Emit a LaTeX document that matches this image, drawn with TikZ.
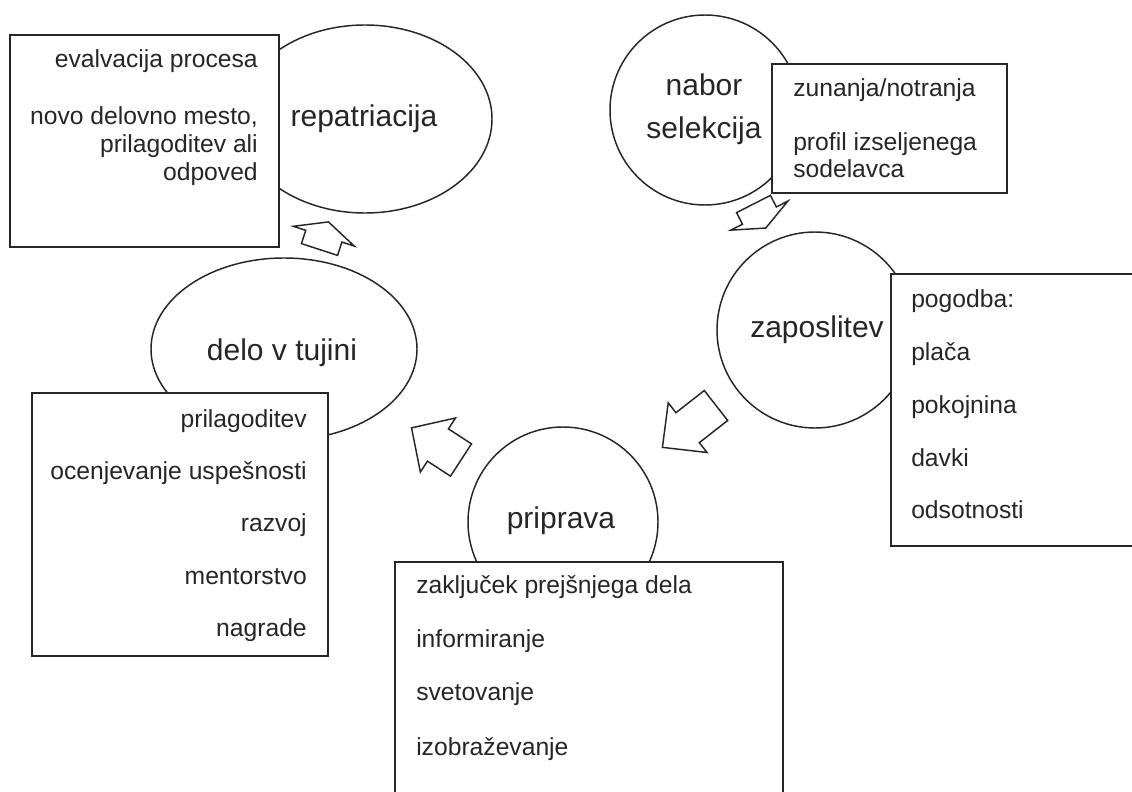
\documentclass[tikz,border=0pt]{standalone}
\usepackage{fontspec}
\setmainfont{Liberation Sans}
\usetikzlibrary{shapes.geometric}
\definecolor{ink}{HTML}{262626}
\begin{document}
\begin{tikzpicture}[x=0.75pt,y=-0.75pt,
  shapeline/.style={draw=ink, line width=1.1pt, fill=white},
  bubble/.style={shapeline, ellipse, inner sep=0pt},
  panel/.style={draw=ink, line width=1.4pt, fill=white, rectangle, inner sep=0pt},
  stagetext/.style={font=\fontsize{22.5}{26}\selectfont, text=ink, inner sep=0pt},
  itemtext/.style={font=\fontsize{18.5}{21}\selectfont, text=ink, inner sep=0pt},
  pics/blockarrow/.style args={#1/#2/#3/#4}{code={
    \draw[shapeline, line join=miter]
      (0,-#3/2) -- (#1,-#3/2) -- (#1,-#4/2) -- (#1+#2,0)
      -- (#1,#4/2) -- (#1,#3/2) -- (0,#3/2) -- cycle;}}
]
\useasboundingbox (0,0) rectangle (1132,792);
\clip (0,0) rectangle (1132,792);
\fill[white] (0,0) rectangle (1132,792);

% stages of the cycle
\node[bubble, minimum width=190.5pt, minimum height=141pt] (rep) at (365,119) {};
\node[bubble, minimum width=142.5pt, minimum height=142.5pt] (nab) at (705,110) {};
\node[bubble, minimum width=147pt, minimum height=147pt] (zap) at (815,330) {};
\node[bubble, minimum width=199.5pt, minimum height=136.5pt] (del) at (284,349) {};
\node[bubble, minimum width=142.5pt, minimum height=142.5pt] (pri) at (563,522) {};

% block arrows between the stages
\pic[rotate=72]   at (319.5,249.5) {blockarrow=14/15/38/64};
\pic[rotate=-63]  at (753.5,204)   {blockarrow=13/14/38/64};
\pic[rotate=-142] at (716,405.5)   {blockarrow=36/32/38/63};
\pic[rotate=147]  at (461,460)     {blockarrow=27.5/31.5/38.5/64.5};

% detail panels
\node[panel, minimum width=201.75pt, minimum height=159pt] (boxrep) at (144.5,141) {};
\node[panel, minimum width=176.25pt, minimum height=96.75pt] (boxnab) at (889.5,128.5) {};
\node[panel, minimum width=190.5pt, minimum height=204pt] (boxzap) at (1018,410) {};
\node[panel, minimum width=222pt, minimum height=197.25pt] (boxdel) at (180,524.5) {};
\node[panel, minimum width=291pt, minimum height=186pt] (boxpri) at (589,686) {};

% stage names
\node[stagetext, anchor=base] (repT) at (364,127) {repatriacija};
\node[stagetext, anchor=base] (nabT1) at (704,95) {nabor};
\node[stagetext, anchor=base] (nabT2) at (704,138) {selekcija};
\node[stagetext, anchor=base] (zapT) at (817,337) {zaposlitev};
\node[stagetext, anchor=base] (delT) at (282,360) {delo v tujini};
\node[stagetext, anchor=base] (priT) at (561,528) {priprava};

% repatriacija items
\node[itemtext, anchor=base east] (r1) at (258,68)  {evalvacija procesa};
\node[itemtext, anchor=base east] (r2) at (258,124) {novo delovno mesto,};
\node[itemtext, anchor=base east] (r3) at (258,152) {prilagoditev ali};
\node[itemtext, anchor=base east] (r4) at (258,180) {odpoved};

% nabor items
\node[itemtext, anchor=base west] (n1) at (793,97)  {zunanja/notranja};
\node[itemtext, anchor=base west] (n2) at (793,150) {profil izseljenega};
\node[itemtext, anchor=base west] (n3) at (793,177) {sodelavca};

% zaposlitev items
\node[itemtext, anchor=base west] (z1) at (911,307) {pogodba:};
\node[itemtext, anchor=base west] (z2) at (911,360) {plača};
\node[itemtext, anchor=base west] (z3) at (911,413) {pokojnina};
\node[itemtext, anchor=base west] (z4) at (911,466) {davki};
\node[itemtext, anchor=base west] (z5) at (911,518) {odsotnosti};

% delo v tujini items
\node[itemtext, anchor=base east] (d1) at (307,427) {prilagoditev};
\node[itemtext, anchor=base east] (d2) at (307,479) {ocenjevanje uspešnosti};
\node[itemtext, anchor=base east] (d3) at (307,531) {razvoj};
\node[itemtext, anchor=base east] (d4) at (307,584) {mentorstvo};
\node[itemtext, anchor=base east] (d5) at (307,636) {nagrade};

% priprava items
\node[itemtext, anchor=base west] (p1) at (416,593) {zaključek prejšnjega dela};
\node[itemtext, anchor=base west] (p2) at (416,647) {informiranje};
\node[itemtext, anchor=base west] (p3) at (416,700) {svetovanje};
\node[itemtext, anchor=base west] (p4) at (416,755) {izobraževanje};
\end{tikzpicture}
\end{document}
